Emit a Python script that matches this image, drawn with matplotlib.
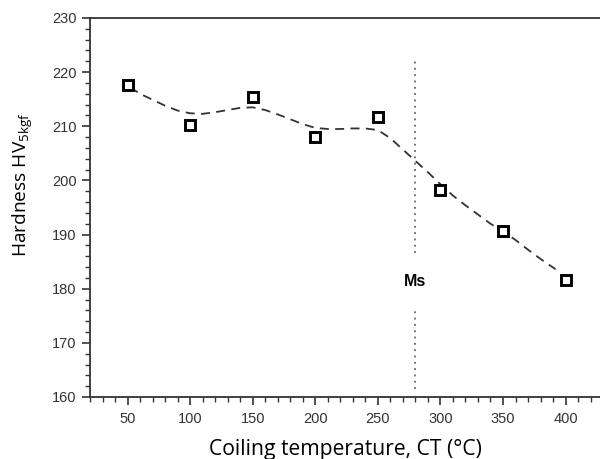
import matplotlib
matplotlib.use("Agg")
import matplotlib.pyplot as plt
from matplotlib.ticker import MultipleLocator

# measured hardness points
temps = [50, 100, 150, 200, 250, 300, 350, 400]
hardness = [217.6, 210.3, 215.4, 208.0, 211.7, 198.2, 190.7, 181.7]

# smooth trend line
trend_x = [52, 60, 70, 80, 90, 100, 110, 120, 130, 140, 150, 160, 170, 180, 190,
           200, 210, 220, 230, 240, 250, 260, 270, 280, 290, 300, 310, 320, 330,
           340, 350, 360, 370, 380, 392]
trend_y = [217.2, 216.0, 214.9, 213.8, 212.9, 212.4, 212.3, 212.6, 213.0, 213.4,
           213.5, 213.0, 212.2, 211.3, 210.4, 209.7, 209.5, 209.5, 209.6, 209.6,
           209.3, 207.8, 205.7, 203.6, 201.5, 199.3, 197.2, 195.4, 193.7, 192.0,
           190.6, 189.0, 187.2, 185.5, 183.6]

ms_temp = 280
ms_upper = (186.6, 222.2)
ms_lower = (161.5, 176.4)

fig = plt.figure(figsize=(6.0, 4.59), dpi=100)
ax = fig.add_axes([0.15, 0.1351, 0.85, 0.8257])

ax.plot(trend_x, trend_y, linestyle=(0, (5, 3.5)), color="#333333", linewidth=1.3)
ax.plot(temps, hardness, linestyle="none", marker="s", markersize=7.8,
        markerfacecolor="white", markeredgecolor="black", markeredgewidth=2.1)

ax.vlines(ms_temp, *ms_upper, colors="#666666", linestyles=(0, (1, 2.5)), linewidth=1.3)
ax.vlines(ms_temp, *ms_lower, colors="#666666", linestyles=(0, (1, 2.5)), linewidth=1.3)
ax.text(ms_temp, 181.3, "Ms", ha="center", va="center", fontsize=11.5,
        fontweight="bold", family="Liberation Sans", color="black")

ax.set_xlim(20, 427.5)
ax.set_ylim(160, 230)
ax.xaxis.set_major_locator(MultipleLocator(50))
ax.xaxis.set_minor_locator(MultipleLocator(10))
ax.yaxis.set_major_locator(MultipleLocator(10))
ax.yaxis.set_minor_locator(MultipleLocator(2))
ax.set_xticks([50, 100, 150, 200, 250, 300, 350, 400])

for side in ["left", "bottom", "top"]:
    ax.spines[side].set_linewidth(1.3)
    ax.spines[side].set_color("#333333")
ax.spines["right"].set_visible(False)

ax.tick_params(which="major", direction="out", length=6, width=1.2, color="#333333",
               labelsize=10.5, labelcolor="#333333")
ax.tick_params(axis="x", which="major", pad=5)
ax.tick_params(which="minor", direction="out", length=3.5, width=1.0, color="#333333")
for lab in ax.get_xticklabels() + ax.get_yticklabels():
    lab.set_family("Liberation Sans")

ax.set_xlabel("Coiling temperature, CT (°C)", fontsize=15.2, family="Open Sans", labelpad=9)
ax.set_ylabel("Hardness HV$_{\\mathregular{5kgf}}$", fontsize=13.8, family="Open Sans")
ax.yaxis.set_label_coords(-0.108, 0.56)

fig.savefig("out.png", dpi=100)
